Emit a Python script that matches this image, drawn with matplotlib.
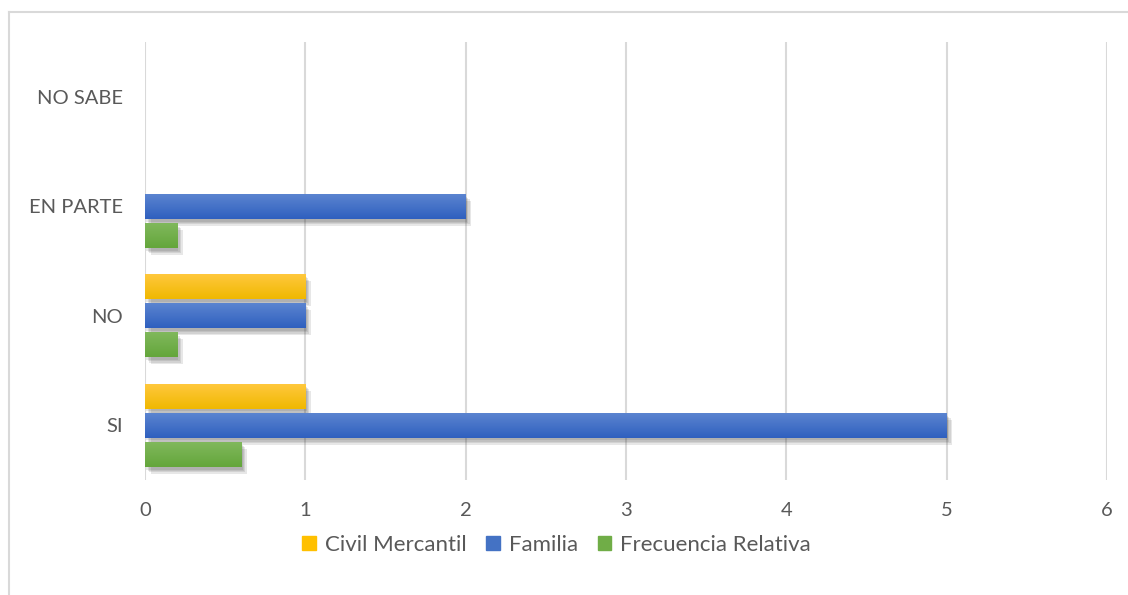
import numpy as np
import matplotlib
matplotlib.use("Agg")
import matplotlib.pyplot as plt
import matplotlib.patheffects as pe
from matplotlib.colors import LinearSegmentedColormap
from matplotlib.lines import Line2D

plt.rcParams['font.family'] = ['Lato', 'DejaVu Sans']

categories = ['SI', 'NO', 'EN PARTE', 'NO SABE']
civil_mercantil = [1, 1, 0, 0]
familia = [5, 1, 2, 0]
frecuencia_relativa = [0.6, 0.2, 0.2, 0]
series_names = ['Civil Mercantil', 'Familia', 'Frecuencia Relativa']

# (base, top of gradient, bottom of gradient)
colors = [('#FFC000', '#FFC83D', '#F0B800'),
          ('#4472C4', '#5B84D0', '#2F60BF'),
          ('#70AD47', '#80B85C', '#64A63B')]
text_color = '#595959'
grid_color = '#D9D9D9'

fig = plt.figure(figsize=(11.28, 5.95), dpi=100)
ax = fig.add_axes([0.1285, 0.1933, 0.8529, 0.7361])

y = np.arange(len(categories))
h = 0.228
offsets = [0.265, 0.0, -0.265]
data = [civil_mercantil, familia, frecuencia_relativa]

# soft shadow made of a few faint offset copies
shadow = [pe.SimplePatchShadow(offset=(o, -o - 1), shadow_rgbFace='#404040', alpha=0.12)
          for o in (4, 3, 2, 1)] + [pe.Normal()]

for vals, off, (base, top, bot), name in zip(data, offsets, colors, series_names):
    bars = ax.barh(y + off, vals, height=h, color=base, label=name, zorder=3,
                   path_effects=shadow)
    cmap = LinearSegmentedColormap.from_list('g', [bot, top])
    for b in bars:
        w = b.get_width()
        if w <= 0:
            b.set_visible(False)
            continue
        y0 = b.get_y()
        grad = np.linspace(0, 1, 64).reshape(-1, 1)
        im = ax.imshow(grad, cmap=cmap, aspect='auto', origin='lower',
                       extent=(0, w, y0, y0 + b.get_height()), zorder=4)
        im.set_clip_path(b)

ax.set_xlim(0, 6)
ax.set_ylim(-0.5, 3.5)
ax.set_xticks(range(7))
ax.set_yticks(y)
ax.set_yticklabels(categories)
ax.grid(axis='x', color=grid_color, linewidth=1.5, zorder=0)
ax.set_axisbelow(True)
for s in ax.spines.values():
    s.set_visible(False)
ax.tick_params(axis='both', length=0, labelsize=14.5, labelcolor=text_color)
ax.tick_params(axis='x', pad=16)
ax.tick_params(axis='y', pad=16)

handles, labels = ax.get_legend_handles_labels()
leg = fig.legend(handles, labels, loc='center', bbox_to_anchor=(0.4934, 0.084), ncol=3,
                 frameon=False, fontsize=16, handlelength=0.6, handleheight=0.6,
                 handletextpad=0.4, columnspacing=0.9, labelcolor=text_color)
for hnd, (base, top, bot) in zip(leg.legend_handles, colors):
    hnd.set_path_effects([])
    hnd.set_color(base)

# chart frame
fig.add_artist(Line2D([9 / 1128, 9 / 1128], [0, 1 - 12 / 595], transform=fig.transFigure,
                      color=grid_color, linewidth=1.5))
fig.add_artist(Line2D([9 / 1128, 1], [1 - 12 / 595, 1 - 12 / 595], transform=fig.transFigure,
                      color=grid_color, linewidth=1.5))

fig.savefig('out.png', dpi=100)
